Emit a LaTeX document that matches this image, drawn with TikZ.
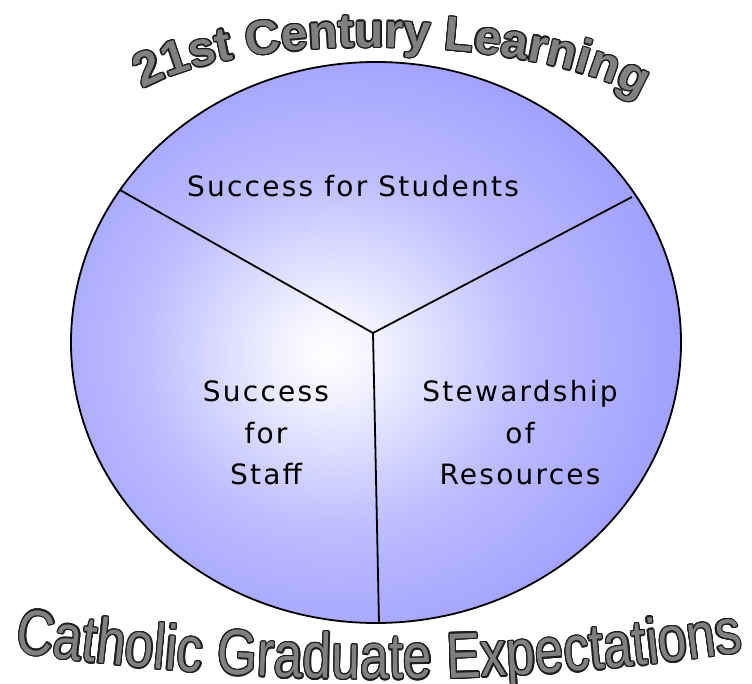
\documentclass[tikz,border=0pt]{standalone}
\usepackage{fontspec}
\usepackage{tikz}
\usetikzlibrary{decorations.text,calc}
\newfontfamily\labelfont[LetterSpace=8]{DejaVu Sans}
\newfontfamily\topwordfont{Liberation Sans}
\newfontfamily\botwordfont[FakeStretch=0.8]{Liberation Sans}
\definecolor{lavout}{RGB}{155,155,255}
\definecolor{lavmid}{RGB}{188,188,255}
\definecolor{lavin}{RGB}{242,242,255}
\definecolor{artgray}{RGB}{128,128,128}
\definecolor{artline}{RGB}{30,30,30}
\pgfdeclareradialshading{glow}{\pgfpoint{-4bp}{-1bp}}{color(0bp)=(white); color(4bp)=(lavin); color(16bp)=(lavmid); color(30bp)=(lavout); color(100bp)=(lavout)}
\newcommand\topwords{\topwordfont\bfseries\fontsize{48}{58}\selectfont}
\newcommand\botwords{\botwordfont\fontsize{64}{70}\selectfont}

\begin{document}
\begin{tikzpicture}[x=1pt,y=1pt,line width=1.8pt]
        \tikzstyle{sector} = [font=\labelfont\fontsize{28}{41.5}\selectfont,align=center,anchor=base,inner sep=0pt]
        \tikzstyle{titleart} = [decorate,decoration={text along path,text align={fit to path},text={|\topwords|21st Century Learning}}]
        \tikzstyle{footart} = [decorate,decoration={text along path,text align={fit to path},text={|\botwords|Catholic Graduate Expectations}}]
        \useasboundingbox (0,0) rectangle (752,683);
        % Draw the disc.
        \draw[shade,shading=glow] (376,340.5) ellipse [x radius=305,y radius=280.5];
        % Draw spokes.
        \coordinate (hub) at (373,350);
        \coordinate (rimL) at (120,493);
        \coordinate (rimR) at (632,486);
        \coordinate (rimB) at (379,60);
        \draw (hub) -- (rimL) (hub) -- (rimR) (hub) -- (rimB);
        % Sector texts.
        \node[sector] (students) at (353,486) {Success for Students};
        \node[sector] (staff) at (266,198) {Success\\for\\Staff};
        \node[sector] (resources) at (520,198) {Stewardship\\of\\Resources};
        % Outline of the arched words.
        \foreach \a in {0,22.5,...,337.5} {
            \path[titleart,decoration={text color=artline},shift={(\a:1.3)}] (143,594) .. controls (255,656) and (540,646) .. (640,585);
            \path[footart,decoration={text color=artline},shift={(\a:1.3)}] (15,31) .. controls (257,-5) and (501,-5) .. (743,31);
        }
        % Fill of the arched words.
        \path[titleart,decoration={text color=artgray}] (143,594) .. controls (255,656) and (540,646) .. (640,585);
        \path[footart,decoration={text color=artgray}] (15,31) .. controls (257,-5) and (501,-5) .. (743,31);
\end{tikzpicture}
\end{document}
